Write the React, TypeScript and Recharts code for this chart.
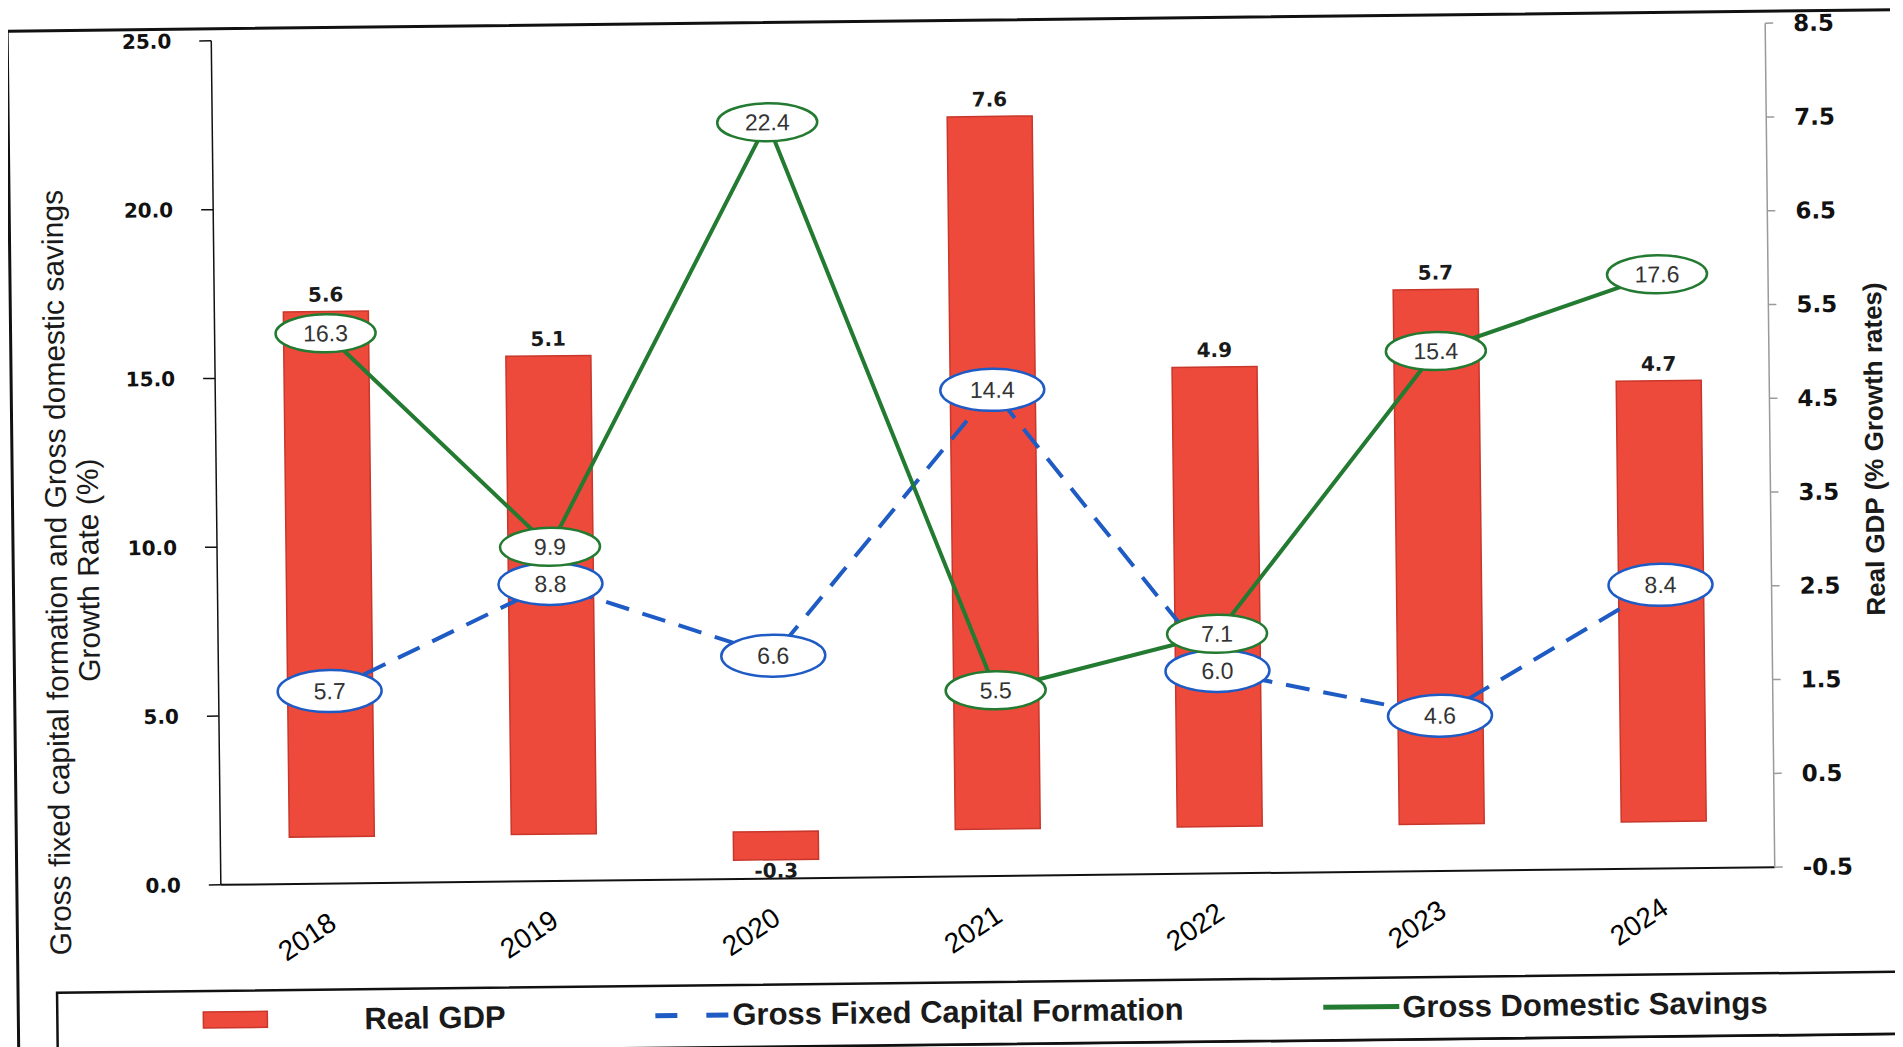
import React from "react";
import { ComposedChart, Bar, Line, XAxis, YAxis, LabelList } from "recharts";

const years = ["2018", "2019", "2020", "2021", "2022", "2023", "2024"];
const realGdp = [5.6, 5.1, -0.3, 7.6, 4.9, 5.7, 4.7];
const gfcf = [5.7, 8.8, 6.6, 14.4, 6.0, 4.6, 8.4];
const gds = [16.3, 9.9, 22.4, 5.5, 7.1, 15.4, 17.6];
const leftTicks = [0, 5, 10, 15, 20, 25];
const rightTicks = [-0.5, 0.5, 1.5, 2.5, 3.5, 4.5, 5.5, 6.5, 7.5, 8.5];
const edgeTicks = [0, 1, 2, 3, 4, 5, 6, 7];

const data = years.map((year, i) => ({
  year,
  idx: i + 0.5,
  realGdp: realGdp[i],
  gfcf: gfcf[i],
  gds: gds[i],
}));

const W = 1887;
const H = 1039;
const RED = "#EE4A3B";
const RED_EDGE = "#C8372B";
const BLUE = "#1F5BC4";
const GREEN = "#237A31";
const ARIAL = "'Liberation Sans', Arial, sans-serif";
const WIDE = "'DejaVu Sans', Verdana, sans-serif";

const BarValueLabel = (props: any) => {
  const { x, y, width, height, value } = props;
  const top = Math.min(y, y + height);
  const bottom = Math.max(y, y + height);
  const neg = Number(value) < 0;
  return (
    <text
      x={x + width / 2}
      y={neg ? bottom + 18 : top - 10}
      textAnchor="middle"
      fontFamily={WIDE}
      fontWeight="bold"
      fontSize={20}
      fill="#1a1a1a"
    >
      {Number(value).toFixed(1)}
    </text>
  );
};

const makeBubble = (color: string, rx: number, ry: number) => (props: any) => {
  const { x, y, value } = props;
  return (
    <g>
      <ellipse cx={x} cy={y} rx={rx} ry={ry} fill="#fff" stroke={color} strokeWidth={2.5} />
      <text x={x} y={y} dy={8} textAnchor="middle" fontFamily={ARIAL} fontSize={23} fill="#333">
        {Number(value).toFixed(1)}
      </text>
    </g>
  );
};

const BlueBubble = makeBubble(BLUE, 52, 21);
const GreenBubble = makeBubble(GREEN, 50, 19);

const YearTick = (props: any) => {
  const { x, y, payload } = props;
  const tx = x + 6;
  const ty = y + 44;
  return (
    <text
      x={tx}
      y={ty}
      transform={`rotate(-33, ${tx}, ${ty})`}
      textAnchor="end"
      fontFamily={ARIAL}
      fontSize={28}
      fill="#000"
    >
      {payload.value}
    </text>
  );
};

const App = () => {
  return (
    <div style={{ position: "relative", width: W, height: H, overflow: "hidden", background: "#fff" }}>
      <div
        style={{
          position: "absolute",
          left: 0,
          top: 0,
          width: W,
          height: H,
          transform: "rotate(-0.65deg)",
          transformOrigin: "985px 446px",
        }}
      >
        <ComposedChart
          width={W}
          height={H}
          data={data}
          margin={{ top: 24, right: 0, bottom: 71, left: 0 }}
          style={{ position: "absolute", left: 0, top: 0 }}
        >
          <XAxis
            xAxisId="edges"
            type="number"
            dataKey="idx"
            domain={[0, 7]}
            ticks={edgeTicks}
            height={0}
            tick={false}
            tickSize={12}
            axisLine={false}
            tickLine={{ stroke: "#111", strokeWidth: 1.5 }}
          />
          <XAxis
            dataKey="year"
            height={100}
            interval={0}
            tickSize={0}
            tickMargin={0}
            tickLine={false}
            axisLine={{ stroke: "#111", strokeWidth: 2 }}
            tick={<YearTick />}
          />
          <YAxis
            yAxisId="left"
            width={208}
            domain={[0, 25]}
            ticks={leftTicks}
            tickFormatter={(v: number) => v.toFixed(1)}
            tickSize={12}
            tickMargin={28}
            axisLine={{ stroke: "#111", strokeWidth: 1.5 }}
            tickLine={{ stroke: "#111", strokeWidth: 1.5 }}
            tick={{ fontFamily: WIDE, fontWeight: "bold", fontSize: 20, fill: "#111" }}
          />
          <YAxis
            yAxisId="right"
            orientation="right"
            width={125}
            domain={[-0.5, 8.5]}
            ticks={rightTicks}
            tickFormatter={(v: number) => v.toFixed(1)}
            tickSize={8}
            tickMargin={20}
            axisLine={{ stroke: "#9a9a9a", strokeWidth: 1.5 }}
            tickLine={{ stroke: "#9a9a9a", strokeWidth: 1.5 }}
            tick={{ fontFamily: WIDE, fontWeight: "bold", fontSize: 23, fill: "#111" }}
          />
          <Bar
            yAxisId="right"
            dataKey="realGdp"
            barSize={85}
            fill={RED}
            stroke={RED_EDGE}
            strokeWidth={1.5}
            isAnimationActive={false}
          >
            <LabelList dataKey="realGdp" content={BarValueLabel} />
          </Bar>
          <Line
            yAxisId="left"
            dataKey="gfcf"
            stroke={BLUE}
            strokeWidth={4}
            strokeDasharray="24 14"
            dot={false}
            activeDot={false}
            isAnimationActive={false}
          >
            <LabelList dataKey="gfcf" content={BlueBubble} />
          </Line>
          <Line
            yAxisId="left"
            dataKey="gds"
            stroke={GREEN}
            strokeWidth={4}
            dot={false}
            activeDot={false}
            isAnimationActive={false}
          >
            <LabelList dataKey="gds" content={GreenBubble} />
          </Line>
        </ComposedChart>

        <svg
          width={W}
          height={H}
          style={{ position: "absolute", left: 0, top: 0, pointerEvents: "none" }}
        >
          {/* outer frame */}
          <rect x={4} y={12} width={1910} height={1024} fill="none" stroke="#111" strokeWidth={3} />

          {/* axis titles */}
          <text
            transform="translate(47, 554) rotate(-90)"
            textAnchor="middle"
            dominantBaseline="central"
            fontFamily={ARIAL}
            fontSize={30}
            fill="#1a1a1a"
          >
            Gross fixed capital formation and Gross domestic savings
          </text>
          <text
            transform="translate(79, 552) rotate(-90)"
            textAnchor="middle"
            dominantBaseline="central"
            fontFamily={ARIAL}
            fontSize={30}
            fill="#1a1a1a"
          >
            Growth Rate (%)
          </text>
          <text
            transform="translate(1866, 451) rotate(-90)"
            textAnchor="middle"
            dominantBaseline="central"
            fontFamily={ARIAL}
            fontWeight="bold"
            fontSize={26}
            fill="#1a1a1a"
          >
            Real GDP (% Growth rates)
          </text>

          {/* legend */}
          <rect x={43} y={974} width={1846} height={62} fill="#fff" stroke="#111" strokeWidth={2.5} />
          <rect x={189} y={995} width={64} height={16} fill={RED} stroke={RED_EDGE} strokeWidth={1.5} />
          <text x={350} y={1014} fontFamily={ARIAL} fontWeight="bold" fontSize={31} fill="#1a1a1a">
            Real GDP
          </text>
          <line x1={641} y1={1004} x2={663} y2={1004} stroke={BLUE} strokeWidth={5} />
          <line x1={692} y1={1004} x2={714} y2={1004} stroke={BLUE} strokeWidth={5} />
          <text x={718} y={1014} fontFamily={ARIAL} fontWeight="bold" fontSize={31} fill="#1a1a1a">
            Gross Fixed Capital Formation
          </text>
          <line x1={1309} y1={1003} x2={1385} y2={1003} stroke={GREEN} strokeWidth={5} />
          <text x={1388} y={1014} fontFamily={ARIAL} fontWeight="bold" fontSize={31} fill="#1a1a1a">
            Gross Domestic Savings
          </text>
        </svg>
      </div>
    </div>
  );
};

export default App;
